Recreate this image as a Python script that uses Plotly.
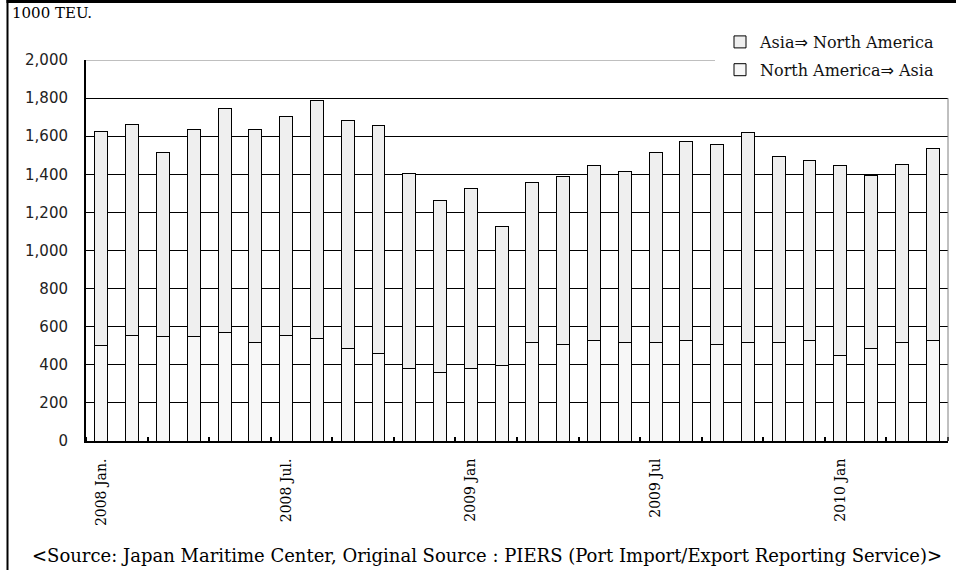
import plotly.graph_objects as go

months = ["2008-01", "2008-02", "2008-03", "2008-04", "2008-05", "2008-06",
          "2008-07", "2008-08", "2008-09", "2008-10", "2008-11", "2008-12",
          "2009-01", "2009-02", "2009-03", "2009-04", "2009-05", "2009-06",
          "2009-07", "2009-08", "2009-09", "2009-10", "2009-11", "2009-12",
          "2010-01", "2010-02", "2010-03", "2010-04"]

na_to_asia = [499, 556, 548, 548, 569, 518, 556, 539, 487, 460, 378, 359, 378, 398,
              518, 507, 527, 518, 518, 527, 509, 518, 518, 527, 448, 488, 518, 529]

asia_to_na = [1125, 1108, 965, 1088, 1175, 1118, 1150, 1251, 1198, 1195, 1027, 906, 947, 727,
              838, 883, 920, 898, 997, 1044, 1045, 1100, 978, 948, 997, 908, 936, 1005]

tick_months = ["2008-01", "2008-07", "2009-01", "2009-07", "2010-01"]
tick_labels = ["2008 Jan.", "2008 Jul.", "2009 Jan", "2009 Jul", "2010 Jan"]

y_ticks = [0, 200, 400, 600, 800, 1000, 1200, 1400, 1600, 1800, 2000]
y_tick_text = ["0", "200", "400", "600", "800", "1,000", "1,200", "1,400", "1,600", "1,800", "2,000"]

SERIF = "DejaVu Serif"
SANS = "DejaVu Sans"
ARROW = '<span style="font-family:DejaVu Sans">\u21d2</span>'

x_pos = list(range(len(months)))

fig = go.Figure()
fig.add_trace(go.Bar(
    x=x_pos, y=na_to_asia, name="North America" + ARROW + " Asia",
    customdata=months,
    marker=dict(color="#f7f7f7", line=dict(color="black", width=1)),
    width=0.42, legendrank=2, legendgroup="b",
))
fig.add_trace(go.Bar(
    x=x_pos, y=asia_to_na, name="Asia" + ARROW + " North America",
    customdata=months,
    marker=dict(color="#efefef", line=dict(color="black", width=1)),
    width=0.42, legendrank=1, legendgroup="a",
))

W, H = 956, 570
L, R, T, B = 86, 8, 60, 129
pw, ph = W - L - R, H - T - B


def px(xp):
    return (xp - L) / pw


def py(yp):
    return (H - B - yp) / ph


shapes = [
    dict(type="line", xref="paper", yref="y", x0=0, x1=px(715), y0=2000, y1=2000,
         line=dict(color="#808080", width=1), layer="above"),
    dict(type="line", xref="paper", yref="y", x0=px(716), x1=1.01, y0=2000, y1=2000,
         line=dict(color="white", width=3), layer="above"),
    dict(type="line", xref="paper", yref="y", x0=1, x1=1, y0=0, y1=1800,
         line=dict(color="#808080", width=1), layer="above"),
    dict(type="line", xref="paper", yref="paper", x0=px(7.5), x1=px(7.5), y0=py(0), y1=py(H),
         line=dict(color="black", width=2)),
    dict(type="line", xref="paper", yref="paper", x0=px(6.5), x1=px(W), y0=py(1.5), y1=py(1.5),
         line=dict(color="black", width=3)),
]

fig.update_layout(
    width=W, height=H,
    margin=dict(l=L, r=R, t=T, b=B),
    paper_bgcolor="white", plot_bgcolor="white",
    barmode="stack",
    showlegend=True,
    legend=dict(
        x=px(720), y=py(25), xanchor="left", yanchor="top",
        bgcolor="white", traceorder="grouped", tracegroupgap=4,
        font=dict(family=SERIF, size=16, color="#111"),
        itemwidth=30,
    ),
    xaxis=dict(
        range=[-0.5, len(months) - 0.5],
        tickmode="array", tickvals=[months.index(m) for m in tick_months], ticktext=tick_labels,
        tickangle=-90, ticks="",
        tickfont=dict(family=SERIF, size=14, color="black"),
        ticklabelstandoff=10,
        showline=True, linecolor="black", linewidth=2,
        showgrid=False, zeroline=False,
        minor=dict(ticks="inside", tick0=1.5, dtick=2, ticklen=4, tickcolor="black", tickwidth=2),
    ),
    yaxis=dict(
        range=[0, 2000],
        tickmode="array", tickvals=y_ticks, ticktext=y_tick_text,
        ticks="", ticklabelstandoff=13,
        tickfont=dict(family=SANS, size=15, color="#222"),
        showline=True, linecolor="black", linewidth=2,
        showgrid=True, gridcolor="black", gridwidth=1,
        zeroline=False,
    ),
    shapes=shapes,
    annotations=[
        dict(text="1000 TEU.", xref="paper", yref="paper", x=px(10), y=py(13),
             xanchor="left", yanchor="middle", showarrow=False,
             font=dict(family=SERIF, size=15, color="black")),
        dict(text="&lt;Source: Japan Maritime Center, Original Source : PIERS (Port Import/Export Reporting Service)&gt;",
             xref="paper", yref="paper", x=px(487), y=py(555),
             xanchor="center", yanchor="middle", showarrow=False,
             font=dict(family=SERIF, size=18, color="black")),
    ],
)

fig.write_html("out.html", config={"displayModeBar": False},
               post_script="document.body.style.margin='0';document.body.style.overflow='hidden';")
